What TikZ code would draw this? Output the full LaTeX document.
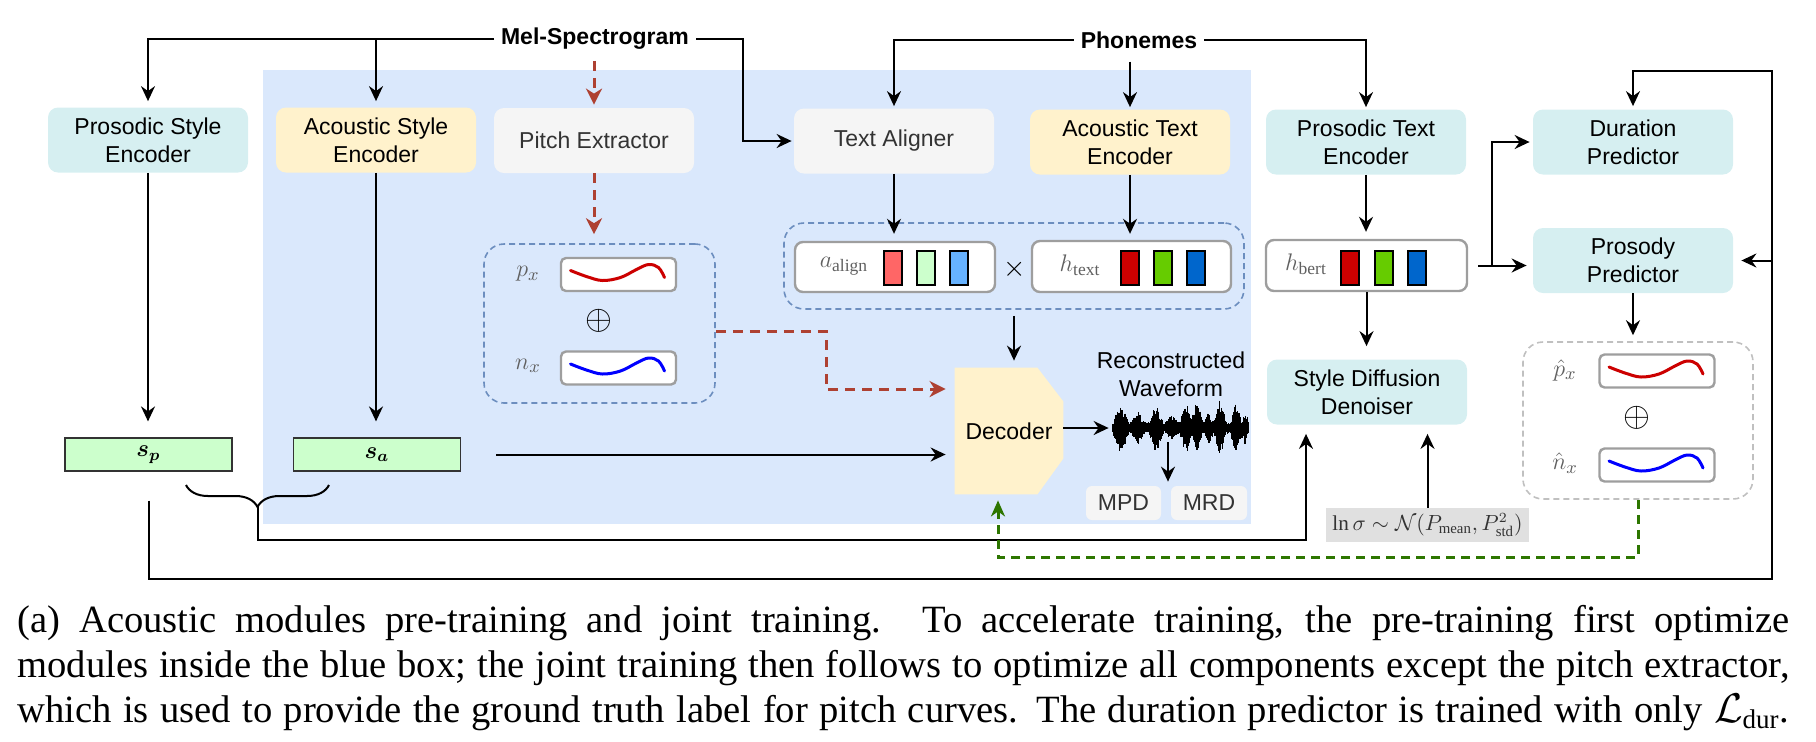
\documentclass[tikz,border=0pt]{standalone}
\usepackage{amsmath,amssymb}
\usepackage{fontspec}
\setmainfont{Liberation Serif}
\setsansfont{Liberation Sans}
\usetikzlibrary{arrows.meta,calc,decorations.pathreplacing}
\pgfdeclarelayer{bg}
\pgfsetlayers{bg,main}
\definecolor{blueF}{HTML}{DAE8FC}
\definecolor{cyanF}{HTML}{D6EFF1}
\definecolor{yelF}{HTML}{FFF2CC}
\definecolor{greyF}{HTML}{F5F5F5}
\definecolor{greenF}{HTML}{CCFFCC}
\definecolor{lnF}{HTML}{E0E0E0}
\definecolor{dashBlue}{HTML}{6C8EBF}
\definecolor{dashGrey}{HTML}{C0C0C0}
\definecolor{boxBorder}{HTML}{9E9E9E}
\definecolor{redC}{HTML}{AE4132}
\definecolor{greenC}{HTML}{2D7600}
\definecolor{txtgrey}{HTML}{333333}
\definecolor{labgrey}{HTML}{606060}
\definecolor{barA}{HTML}{FF6666}
\definecolor{barB}{HTML}{CCFFCC}
\definecolor{barC}{HTML}{66B2FF}
\definecolor{barD}{HTML}{CC0000}
\definecolor{barE}{HTML}{66CC00}
\definecolor{barF}{HTML}{0066CC}
\definecolor{curveR}{HTML}{CC0000}
\definecolor{curveB}{HTML}{0000FF}
\newcommand\mycurve[2]{\draw[#2, line width=1.5pt, line cap=round, shift={(#1)}] plot[smooth, tension=0.6] coordinates {(-48,-4) (-32,2) (-16,6) (2,3) (18,-5) (30,-10) (40,-7) (46,3)};}
\begin{document}
\begin{tikzpicture}[x=0.5pt,y=-0.5pt,
  every node/.style={font=\sffamily\fontsize{11.5}{14}\selectfont},
  boldtext/.style={font=\sffamily\bfseries\fontsize{11.5}{14}\selectfont},
  box/.style={rounded corners=5pt, minimum width=100pt, minimum height=32.5pt, align=center, inner sep=2pt},
  cyanbox/.style={box, fill=cyanF},
  yelbox/.style={box, fill=yelF},
  greybox/.style={box, fill=greyF, text=txtgrey},
  dashbox/.style={draw=dashBlue, line width=0.8pt, dash pattern=on 3pt off 2pt, rounded corners=10pt, minimum width=115.5pt, minimum height=79.5pt, inner sep=0},
  gdashbox/.style={draw=dashGrey, line width=0.8pt, dash pattern=on 3pt off 2pt, rounded corners=10pt, minimum width=115pt, minimum height=78.5pt, inner sep=0},
  cbox/.style={draw=boxBorder, fill=white, line width=1.2pt, rounded corners=2.5pt, minimum width=57.5pt, minimum height=16.5pt, inner sep=0},
  vbox/.style={draw=boxBorder, fill=white, line width=1.2pt, rounded corners=4pt, minimum width=100pt, minimum height=25pt, inner sep=0},
  bar/.style={draw=black, line width=0.75pt, minimum width=9pt, minimum height=17pt, inner sep=0},
  sbox/.style={draw=txtgrey, fill=greenF, line width=0.6pt, minimum width=83.5pt, minimum height=16.5pt, inner sep=0},
  mbox/.style={fill=greyF, rounded corners=3pt, minimum width=37.5pt, minimum height=17pt, inner sep=0, text=txtgrey},
  lnbox/.style={fill=lnF, minimum width=101.5pt, minimum height=17pt, inner sep=0, text=txtgrey, font=\fontsize{10.6}{12}\selectfont},
  mlabel/.style={text=labgrey, inner sep=1pt, font=\fontsize{12.5}{15}\selectfont},
  plus/.style={inner sep=0, font=\fontsize{18}{20}\selectfont},
  arr/.style={draw=black, line width=1pt, -{Stealth[length=7.5pt,width=7pt,inset=2.5pt]}},
  redarr/.style={draw=redC, line width=1.5pt, dash pattern=on 5pt off 3.5pt, -{Stealth[length=8pt,width=8pt,inset=2.5pt]}},
  greenarr/.style={draw=greenC, line width=1.5pt, dash pattern=on 4.5pt off 3pt, -{Stealth[length=8pt,width=7pt,inset=2.5pt]}}
]
\useasboundingbox (0,0) rectangle (1816,741);
\begin{pgfonlayer}{bg}
\fill[blueF] (263,70) rectangle (1251,524);
\end{pgfonlayer}

% titles
\node[boldtext] (mel) at (595,39) {Mel-Spectrogram};
\node[boldtext] (ph) at (1139,40) {Phonemes};

% top modules
\node[cyanbox] (pse) at (148,140) {Prosodic Style\\Encoder};
\node[yelbox] (ase) at (376,140) {Acoustic Style\\Encoder};
\node[greybox] (pitch) at (594,140.5) {Pitch Extractor};
\node[greybox] (ta) at (894,141) {Text Aligner};
\node[yelbox] (ate) at (1130,142) {Acoustic Text\\Encoder};
\node[cyanbox] (pte) at (1366,142) {Prosodic Text\\Encoder};
\node[cyanbox] (dp) at (1633,142) {Duration\\Predictor};
\node[cyanbox] (pp) at (1633,260.5) {Prosody\\Predictor};
\node[cyanbox] (sdd) at (1367,392) {Style Diffusion\\Denoiser};

% pitch curves group
\node[dashbox] (pbox) at (599.5,323.5) {};
\node[cbox] (pxb) at (618.5,274.5) {};
\node[cbox] (nxb) at (618.5,368) {};
\node[mlabel] (lpx) at (528,274) {$p_x$};
\node[mlabel] (lnx) at (528,366) {$n_x$};
\node[plus] (op1) at (599,321) {$\oplus$};
\mycurve{pxb}{curveR}
\mycurve{nxb}{curveB}

% predicted curves group
\node[gdashbox] (gbox) at (1638,420.5) {};
\node[cbox] (phxb) at (1657,371) {};
\node[cbox] (nhxb) at (1657,465) {};
\node[mlabel] (lphx) at (1565,370) {$\hat{p}_x$};
\node[mlabel] (lnhx) at (1565,463) {$\hat{n}_x$};
\node[plus] (op2) at (1637,418) {$\oplus$};
\mycurve{phxb}{curveR}
\mycurve{nhxb}{curveB}

% alignment group
\node[dashbox, minimum width=230pt, minimum height=43pt] (abox) at (1014,266) {};
\node[vbox] (aal) at (895,267) {};
\node[mlabel] (laal) at (844,266) {$a_{\mathrm{align}}$};
\node[bar, fill=barA] (aal1) at (893,268) {};
\node[bar, fill=barB] (aal2) at (926,268) {};
\node[bar, fill=barC] (aal3) at (959,268) {};
\node[plus, font=\fontsize{14}{16}\selectfont] (tms) at (1015,269) {$\times$};
\node[vbox, minimum width=99.5pt, minimum height=25.5pt] (htx) at (1131.5,266.5) {};
\node[mlabel] (lhtx) at (1080,265) {$h_{\mathrm{text}}$};
\node[bar, fill=barD] (htx1) at (1130,268) {};
\node[bar, fill=barE] (htx2) at (1163,268) {};
\node[bar, fill=barF] (htx3) at (1196,268) {};

% bert
\node[vbox, minimum width=100.5pt, minimum height=25.5pt] (hb) at (1366.5,265.5) {};
\node[mlabel] (lhb) at (1306,264) {$h_{\mathrm{bert}}$};
\node[bar, fill=barD] (hb1) at (1350,268) {};
\node[bar, fill=barE] (hb2) at (1384,268) {};
\node[bar, fill=barF] (hb3) at (1417,268) {};

% style vectors
\node[sbox] (sp) at (148.5,454.5) {$\boldsymbol{s_p}$};
\node[sbox] (sa) at (377,454.5) {$\boldsymbol{s_a}$};

% decoder
\node[minimum width=54pt, minimum height=63pt, inner sep=0] (dec) at (1009,431) {Decoder};
\begin{pgfonlayer}{bg}
\fill[yelF] (dec.north west) -- ($(dec.north east)+(-26,0)$) -- ($(dec.north east)+(0,34)$) -- ($(dec.south east)+(0,-36)$) -- ($(dec.south east)+(-26,0)$) -- (dec.south west) -- cycle;
\end{pgfonlayer}

% waveform
\node[minimum width=68pt, minimum height=28pt, inner sep=0] (wave) at (1180,428) {};
\node[align=center, inner sep=0] (rw) at (1171,374.5) {Reconstructed\\Waveform};
\pgfmathsetseed{42}
\foreach \i in {0,...,225} {
  \pgfmathsetmacro\xx{1113+0.6*\i}
  \pgfmathsetmacro\en{6+22*max(0,1-abs(\xx-1121)/8)+10*max(0,1-abs(\xx-1138)/7)+20*max(0,1-abs(\xx-1156)/7)+8*max(0,1-abs(\xx-1172)/6)+22*max(0,1-abs(\xx-1186)/6)+23*max(0,1-abs(\xx-1197)/6)+12*max(0,1-abs(\xx-1209)/5)+25*max(0,1-abs(\xx-1220)/6)+20*max(0,1-abs(\xx-1236)/6)+10*max(0,1-abs(\xx-1245)/5)}
  \pgfmathsetmacro\uu{\en*(0.5+0.5*rnd)}
  \pgfmathsetmacro\dd{\en*(0.5+0.5*rnd)}
  \draw[line width=0.6pt] (\xx,{428-\uu}) -- (\xx,{428+\dd});
}
\node[mbox] (mpd) at (1123.5,503) {MPD};
\node[mbox, minimum width=38pt] (mrd) at (1209,503) {MRD};

% noise distribution
\node[lnbox] (lns) at (1427.5,525) {$\ln\sigma\sim\mathcal{N}(P_{\mathrm{mean}},P^2_{\mathrm{std}})$};

% ---- connectors ----
\draw[arr, shorten >=3pt] (mel.west) -| (pse.north);
\draw[arr, shorten >=3pt] (mel.west -| ase.north) -- (ase.north);
\draw[redarr, shorten <=2pt, shorten >=1.5pt] (mel.south -| pitch.north) -- (pitch.north);
\coordinate (melturn) at (743,39);
\draw[arr, shorten >=1pt] (mel.east) -- (melturn) |- (ta.west);
\draw[arr, shorten >=1pt] (ph.west) -| (ta.north);
\draw[arr, shorten <=3pt, shorten >=1pt] (ph.south -| ate.north) -- (ate.north);
\draw[arr, shorten >=1pt] (ph.east) -| (pte.north);

\draw[arr, shorten >=8pt] (pse.south) -- (pse.south |- sp.north);
\draw[arr, shorten >=8pt] (ase.south) -- (ase.south |- sa.north);
\draw[redarr, shorten >=4.5pt] (pitch.south) -- (pitch.south |- pbox.north);
\draw[arr, shorten >=3.5pt] (ta.south) -- (ta.south |- aal.north);
\draw[arr, shorten >=3pt] (ate.south) -- (ate.south |- htx.north);
\draw[arr, shorten <=3pt, shorten >=3.5pt] (abox.south) -- (abox.south |- dec.north);
\draw[arr, shorten <=17.5pt, shorten >=4.5pt] (sa.east) -- (sa.east -| dec.west);
\coordinate (redturn) at (826,389);
\draw[redarr, shorten >=4.5pt] ($(pbox.east)+(0,8)$) -| (redturn) -- (redturn -| dec.west);
\draw[arr, shorten >=1.5pt] (wave.west -| dec.east) -- (wave.west);
\coordinate (wbot) at (1168,442);
\draw[arr, shorten >=2pt] (wbot) -- (wbot |- mpd.north);

\draw[arr, shorten >=3.5pt] (pte.south) -- (pte.south |- hb.north);
\draw[arr, shorten >=6.5pt] (hb.south) -- (hb.south |- sdd.north);
\draw[arr, shorten <=5pt, shorten >=3pt] (hb.east) -- (hb.east -| pp.west);
\coordinate (jn) at (1492,265.5);
\draw[arr, shorten >=1.5pt] (jn) |- (dp.west);
\draw[arr, shorten >=3pt] (pp.south) -- (pp.south |- gbox.north);

\coordinate (loopR) at (1772,579);
\coordinate (loopT) at (1772,71);
\draw[arr, shorten <=14.5pt, shorten >=1.5pt] (sp.south) |- (loopR) -- (loopT) -| (dp.north);
\draw[arr, shorten >=4pt] (loopR |- pp.east) -- (pp.east);

\draw[line width=1pt, decorate, decoration={brace, amplitude=11pt}] (329,485) -- (186,485);
\coordinate (btip) at (257.5,507);
\coordinate (bcorner) at (1306,540);
\draw[arr, shorten >=4.5pt] (btip) |- (bcorner) -- (bcorner |- sdd.south);
\draw[arr, shorten >=4.5pt] (lns.north) -- (lns.north |- sdd.south);

\coordinate (gL) at (998,557);
\draw[greenarr, shorten >=3pt] (gbox.south) |- (gL) -- (gL |- dec.south);

% caption
\node[anchor=base west, inner sep=0, font=\rmfamily\fontsize{19.3}{22.5}\selectfont] (cap) at (17,632) {\parbox[t]{886pt}{\setlength{\parfillskip}{0pt}(a) Acoustic modules pre-training and joint training. To accelerate training, the pre-training first optimize\linebreak modules inside the blue box; the joint training then follows to optimize all components except the pitch extractor,\linebreak which is used to provide the ground truth label for pitch curves. The duration predictor is trained with only $\mathcal{L}_{\mathrm{dur}}$.}};
\end{tikzpicture}
\end{document}
